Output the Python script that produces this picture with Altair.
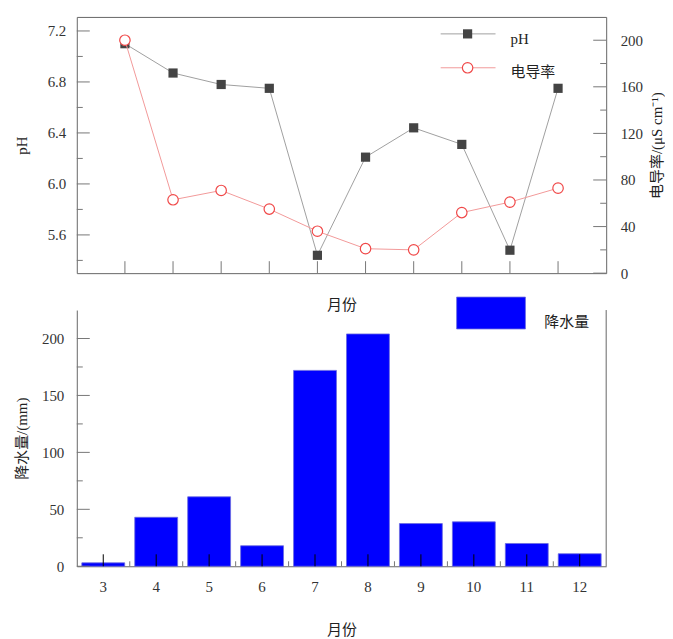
import altair as alt
import pandas as pd

# ---------------- data ----------------
months = [3, 4, 5, 6, 7, 8, 9, 10, 11, 12]
ph = [7.10, 6.87, 6.78, 6.75, 5.44, 6.21, 6.44, 6.31, 5.48, 6.75]
cond = [200, 63, 71, 55, 36, 21, 20, 52, 61, 73]
rain = [3, 43, 61, 18, 172, 204, 37.5, 39, 20, 11]

ph_major = [5.6, 6.0, 6.4, 6.8, 7.2]
ph_minor = [5.4, 5.8, 6.2, 6.6, 7.0]
cond_major = [0, 40, 80, 120, 160, 200]
cond_minor = [20, 60, 100, 140, 180]
rain_major = [0, 50, 100, 150, 200]
rain_minor = [25, 75, 125, 175]

SERIF = "Liberation Serif, Noto Sans CJK SC"
W, H1, H2 = 531, 257, 257
AX = "#666666"
TK = "#777777"
LAB = "#333333"

df = pd.DataFrame({"month": months, "pH": ph, "cond": cond, "rain": rain})
one = pd.DataFrame({"k": [0]})

def tickdf(vals):
    return pd.DataFrame({"v": vals})

# ---------------- top chart ----------------
x_top = alt.X("month:Q",
              scale=alt.Scale(domain=[2, 13], nice=False, zero=False),
              axis=alt.Axis(title="月份", labels=False, ticks=False, domain=False, grid=False,
                            titlePadding=24, titleFont=SERIF, titleFontSize=15,
                            titleFontWeight="normal", titleColor="#222"))

ph_scale = alt.Scale(domain=[5.3, 7.31], nice=False, zero=False)
ph_axis = alt.Axis(title="pH", orient="left", values=ph_major, format=".1f", ticks=False,
                   domain=False, grid=False, labelPadding=11, labelFont=SERIF, labelFontSize=15,
                   labelColor=LAB, titleFont=SERIF, titleFontSize=15, titleFontWeight="normal",
                   titleColor="#222", titleX=-55, titleBaseline="middle", titleAngle=270)
cond_scale = alt.Scale(domain=[0, 220], nice=False, zero=True)
cond_axis = alt.Axis(title="电导率/(μS cm⁻¹)", orient="right", values=cond_major, ticks=False,
                     domain=False, grid=False, labelPadding=14, labelFont=SERIF, labelFontSize=15,
                     labelColor=LAB, titleFont=SERIF, titleFontSize=15, titleFontWeight="normal",
                     titleColor="#222", titleX=50, titleAngle=270, titleBaseline="middle")

base = alt.Chart(df)
ph_line = base.mark_line(color="#a0a0a0", strokeWidth=1).encode(
    x=x_top, y=alt.Y("pH:Q", scale=ph_scale, axis=ph_axis))
ph_pts = base.mark_point(shape="square", filled=True, color="#444444", size=85, opacity=1).encode(
    x=x_top, y=alt.Y("pH:Q", scale=ph_scale, axis=ph_axis))
ph_tmaj = alt.Chart(tickdf(ph_major)).mark_rule(color=TK).encode(
    y=alt.Y("v:Q", scale=ph_scale, axis=ph_axis), x=alt.value(0), x2=alt.value(13))
ph_tmin = alt.Chart(tickdf(ph_minor)).mark_rule(color=TK).encode(
    y=alt.Y("v:Q", scale=ph_scale, axis=ph_axis), x=alt.value(0), x2=alt.value(6))
layer_ph = alt.layer(ph_line, ph_tmaj, ph_tmin, ph_pts)

c_line = base.mark_line(color="#f29a9a", strokeWidth=1).encode(
    x=x_top, y=alt.Y("cond:Q", scale=cond_scale, axis=cond_axis))
c_pts = base.mark_point(shape="circle", filled=True, fill="white", stroke="#f04848",
                        strokeWidth=1.2, size=110, opacity=1).encode(
    x=x_top, y=alt.Y("cond:Q", scale=cond_scale, axis=cond_axis))
c_tmaj = alt.Chart(tickdf(cond_major)).mark_rule(color=TK).encode(
    y=alt.Y("v:Q", scale=cond_scale, axis=cond_axis), x=alt.value(W - 13), x2=alt.value(W))
c_tmin = alt.Chart(tickdf(cond_minor)).mark_rule(color=TK).encode(
    y=alt.Y("v:Q", scale=cond_scale, axis=cond_axis), x=alt.value(W - 6), x2=alt.value(W))
layer_c = alt.layer(c_line, c_tmaj, c_tmin, c_pts)

x_ticks_top = base.mark_rule(color=TK).encode(
    x=x_top, y=alt.value(H1), y2=alt.value(H1 - 12))

lg = alt.Chart(one)
leg_top = alt.layer(
    lg.mark_rule(color="#a0a0a0").encode(x=alt.value(365), x2=alt.value(420), y=alt.value(17)),
    lg.mark_point(shape="square", filled=True, color="#444444", size=85, opacity=1).encode(
        x=alt.value(392), y=alt.value(17)),
    lg.mark_text(align="left", baseline="middle", font=SERIF, fontSize=15, color="#222").encode(
        x=alt.value(435), y=alt.value(22), text=alt.value("pH")),
    lg.mark_rule(color="#f29a9a").encode(x=alt.value(365), x2=alt.value(420), y=alt.value(51)),
    lg.mark_point(shape="circle", filled=True, fill="white", stroke="#f04848", strokeWidth=1.2,
                  size=110, opacity=1).encode(x=alt.value(392), y=alt.value(51)),
    lg.mark_text(align="left", baseline="middle", font=SERIF, fontSize=15, color="#222").encode(
        x=alt.value(435), y=alt.value(55), text=alt.value("电导率")),
)

top = alt.layer(x_ticks_top, layer_ph, layer_c, leg_top).resolve_scale(y="independent").properties(
    width=W, height=H1, view=alt.ViewConfig(stroke=AX, strokeWidth=1))

# ---------------- bottom chart ----------------
x_bot_scale = alt.Scale(domain=months, paddingInner=0.19, paddingOuter=0.095)
x_bot_axis = alt.Axis(title="月份", labelAngle=0, ticks=False, domain=True, domainColor=AX,
                      grid=False, labelPadding=13, labelFont=SERIF, labelFontSize=15, labelColor=LAB,
                      titleFont=SERIF, titleFontSize=15, titleFontWeight="normal", titleColor="#222",
                      titlePadding=28)
x_bot = alt.X("month:O", scale=x_bot_scale, axis=x_bot_axis)

rain_scale = alt.Scale(domain=[0, 225], nice=False, zero=True)
rain_axis = alt.Axis(title="降水量/(mm)", orient="left", values=rain_major, ticks=False,
                     domain=True, domainColor=AX, grid=False, labelPadding=13, labelFont=SERIF,
                     labelFontSize=15, labelColor=LAB, titleFont=SERIF, titleFontSize=15,
                     titleFontWeight="normal", titleColor="#222", titleX=-55,
                     titleBaseline="middle", titleAngle=270)

bars = base.mark_bar(color="#0000ff", stroke="#6b6be0", strokeWidth=0.8).encode(
    x=x_bot, y=alt.Y("rain:Q", scale=rain_scale, axis=rain_axis))
r_tmaj = alt.Chart(tickdf(rain_major)).mark_rule(color=TK).encode(
    y=alt.Y("v:Q", scale=rain_scale, axis=rain_axis), x=alt.value(0), x2=alt.value(13))
r_tmin = alt.Chart(tickdf(rain_minor)).mark_rule(color=TK).encode(
    y=alt.Y("v:Q", scale=rain_scale, axis=rain_axis), x=alt.value(0), x2=alt.value(6))
xb_maj = base.mark_rule(color="black").encode(
    x=x_bot, y=alt.value(H2), y2=alt.value(H2 - 12))
xb_min = alt.Chart(pd.DataFrame({"month": months[1:]})).mark_rule(color=TK, xOffset=-5).encode(
    x=alt.X("month:O", scale=x_bot_scale, axis=x_bot_axis, bandPosition=0),
    y=alt.value(H2), y2=alt.value(H2 - 5))
right_line = lg.mark_rule(color=AX).encode(x=alt.value(W), y=alt.value(0), y2=alt.value(H2))
leg_bot = alt.layer(
    lg.mark_rect(color="#0000ff", stroke="#6b6be0", strokeWidth=0.8).encode(
        x=alt.value(381), x2=alt.value(450), y=alt.value(-13), y2=alt.value(19)),
    lg.mark_text(align="left", baseline="middle", font=SERIF, fontSize=15, color="#222").encode(
        x=alt.value(469), y=alt.value(12), text=alt.value("降水量")),
)

bottom = alt.layer(bars, r_tmaj, r_tmin, xb_min, xb_maj, right_line, leg_bot).properties(
    width=W, height=H2, view=alt.ViewConfig(stroke="transparent"))

chart = alt.vconcat(top, bottom, spacing=37, bounds="flush").properties(
    padding={"left": 6, "top": 7, "right": 0, "bottom": 0}
).configure(background="white")

chart.save("out.html", embed_options={"renderer": "svg", "actions": False})
